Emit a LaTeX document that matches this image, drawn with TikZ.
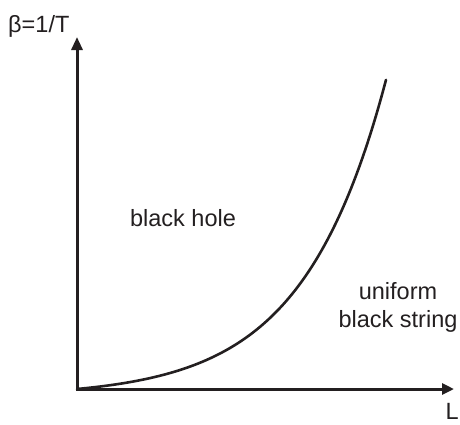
\documentclass[tikz,border=0pt]{standalone}
\usepackage{fontspec}
\setmainfont{Liberation Sans}
\usetikzlibrary{arrows.meta}
\definecolor{ink}{HTML}{231F20}
\begin{document}
\begin{tikzpicture}[x=1pt,y=-1pt,
  axis/.style={draw=ink,line width=3pt,
    {Triangle[length=13pt,width=11pt]}-{Triangle[length=12pt,width=11pt]}},
  curveline/.style={draw=ink,line width=2.6pt,line cap=round},
  lbl/.style={text=ink,font=\fontsize{23.5}{27}\selectfont,inner sep=0pt,align=center}]
\useasboundingbox (0,0) rectangle (460,424);
\coordinate (O) at (77,389);
\coordinate (ytip) at (77,37);
\coordinate (xtip) at (454,389);
\draw[axis] (ytip) -- (O) -- (xtip);
\draw[curveline] plot[domain=0:309,samples=80,smooth] ({77+\x},{389-7.79*(exp(0.012*\x)-1)}) coordinate (cend);
\node[lbl,anchor=base west] (beta) at (8,32) {β=1/T};
\node[lbl,anchor=base east] (L) at (459,419) {L};
\node[lbl,anchor=base] (bh) at (183,226) {black hole};
\node[lbl,anchor=base] (ubs1) at (398,299) {uniform};
\node[lbl,anchor=base] (ubs2) at (398,327) {black string};
\end{tikzpicture}
\end{document}
